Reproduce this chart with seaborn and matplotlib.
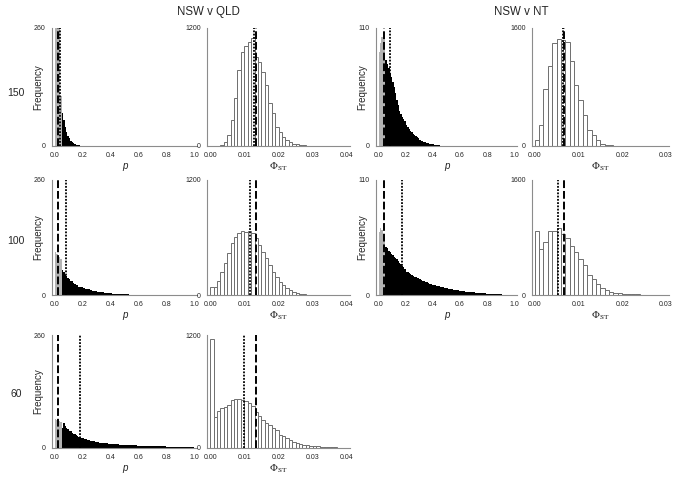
import numpy as np
import pandas as pd
import matplotlib
matplotlib.use("Agg")
import matplotlib.pyplot as plt
import seaborn as sns

sns.set_style("white")
plt.rcParams["font.family"] = ["Liberation Sans", "DejaVu Sans"]
plt.rcParams["mathtext.fontset"] = "stix"

# p-value histograms, counts per 0.01 bin starting at p = 0 (bins below 0.05 drawn grey)
p_qld_150 = [420, 390, 330, 270, 110, 72, 57, 41, 31, 22, 17, 11, 8, 6, 4, 3, 2.2, 1.5, 1, 0.8,
             0.5, 0.4, 0.3, 0.2]
p_qld_100 = [98, 93, 90, 86, 81, 57, 53, 46, 44, 38, 36, 32, 31, 27, 26, 23, 23, 19, 19, 17,
             16, 15, 14, 13, 12.5, 11, 10.5, 9.5, 9.2, 8, 7.8, 7, 6.8, 6, 5.7, 5, 4.8, 4.2, 4, 3.6,
             3.4, 3, 2.9, 2.6, 2.5, 2.2, 2.1, 1.8, 1.7, 1.5, 1.4, 1.2, 1.2, 1, 1, 0.8, 0.8, 0.6, 0.6, 0.5,
             0.5, 0.4, 0.4, 0.3, 0.3, 0.2, 0.2, 0.2, 0.1, 0.1]
p_qld_60 = [66, 64, 63, 61, 59, 46, 58, 50, 46, 43, 39, 38, 35, 33, 32, 29, 28, 26, 25, 24,
            22, 21.5, 20, 19.5, 18, 17, 17, 16, 15, 14.5, 13.5, 13.5, 12.5, 12.5, 11.5, 11, 11, 10.5, 10, 10,
            9.5, 9.4, 9, 8.9, 8.5, 8.4, 8, 7.9, 7.6, 7.5, 7.2, 7.1, 6.8, 6.7, 6.4, 6.3, 6.1, 6, 5.8, 5.7,
            5.5, 5.5, 5.2, 5.2, 5, 5, 4.8, 4.7, 4.5, 4.5, 4.3, 4.2, 4, 4, 3.9, 3.9, 3.7, 3.7, 3.5, 3.5,
            3.4, 3.4, 3.2, 3.2, 3.1, 3.1, 3, 2.9, 2.9, 2.8, 2.7, 2.7, 2.6, 2.6, 2.5, 2.5, 2.4, 2.4, 2.3, 2.3]
p_nt_150 = [88, 96, 102, 106, 100, 80, 76, 73, 68, 64, 60, 55, 49, 43, 38, 33, 30, 27, 25, 23,
            20, 18, 16, 14, 13, 11, 10, 9, 8, 7, 6, 5, 4.5, 4, 3.5, 3, 2.5, 2, 2, 1.5,
            1.5, 1, 1, 0.7, 0.5, 0.4, 0.3, 0.2]
p_nt_100 = [60, 64, 62, 58, 55, 46, 45, 42, 41, 39, 38, 36, 35, 34, 33, 31, 30, 28, 27, 25,
            22, 22, 21, 20, 19, 18, 17, 17, 16, 16, 15, 14, 13.5, 13, 12.6, 12, 11.5, 11, 10.5, 10,
            9.7, 9.4, 9, 8.7, 8.4, 8, 7.7, 7.4, 7.1, 6.8, 6.4, 6.1, 5.8, 5.6, 5.4, 5.1, 4.9, 4.6, 4.4, 4.2,
            4, 3.8, 3.6, 3.4, 3.2, 3, 2.9, 2.8, 2.6, 2.5, 2.4, 2.2, 2.1, 2, 1.9, 1.8, 1.7, 1.6, 1.5, 1.4,
            1.3, 1.2, 1.1, 1, 0.9, 0.8, 0.7, 0.7, 0.6, 0.5, 0.5, 0.4, 0.4, 0.3, 0.3, 0.2, 0.2, 0.2, 0.1]

# PhiST histograms, counts per 0.001 bin starting at 0
phi_qld_150 = [0, 0, 0, 14, 41, 109, 262, 484, 774, 961, 1012, 1053, 1098, 903, 859, 757, 620, 433,
               331, 194, 143, 92, 58, 41, 24, 17, 10, 7, 4, 2, 1]
phi_qld_100 = [87, 87, 146, 243, 330, 435, 539, 609, 643, 668, 661, 668, 643, 591, 522, 452, 383, 313,
               237, 191, 139, 104, 77, 52, 35, 24, 14, 7, 4, 2, 1]
phi_qld_60 = [1154, 328, 388, 424, 434, 459, 512, 519, 522, 512, 501, 476, 448, 378, 335, 300, 265, 247,
              212, 187, 141, 124, 106, 88, 64, 53, 46, 35, 28, 21, 21, 18, 14, 11, 11, 7, 7, 4, 4]
phi_nt_150 = [77, 282, 768, 1086, 1395, 1450, 1440, 1409, 1155, 827, 623, 418, 214, 145, 77, 32, 14, 7,
              4, 2, 1]
phi_nt_100 = [891, 640, 731, 891, 891, 937, 846, 800, 686, 594, 503, 411, 274, 229, 160, 91, 69, 46,
              32, 23, 18, 14, 9, 9, 5, 2]

# observed (dashed) and median (dotted) values
p_obs_qld, p_obs_nt = 0.022, 0.042
p_med = {"qld150": 0.038, "qld100": 0.08, "qld60": 0.178, "nt150": 0.082, "nt100": 0.17}
phi_obs_qld, phi_obs_nt = 0.0135, 0.0068
phi_med = {"qld150": 0.0129, "qld100": 0.0118, "qld60": 0.0100, "nt150": 0.0065, "nt100": 0.0054}

W, H = 683, 482
fig = plt.figure(figsize=(W / 100, H / 100), dpi=100)

cols = [(52, 197), (207, 350), (376, 517), (532, 669)]
rows = [(28, 146), (180, 295), (335, 448)]


def make_ax(r, c):
    x0, x1 = cols[c]
    y0, y1 = rows[r]
    return fig.add_axes([x0 / W, 1 - y1 / H, (x1 - x0) / W, (y1 - y0) / H])


def style(ax, ymax):
    sns.despine(ax=ax)
    for s in ("left", "bottom"):
        ax.spines[s].set_color("#8c8c8c")
        ax.spines[s].set_linewidth(0.8)
    ax.set_ylim(0, ymax)
    ax.set_yticks([0, ymax])
    ax.set_yticklabels(["0", str(ymax)])
    ax.tick_params(axis="both", length=2, width=0.6, color="#8c8c8c", pad=2.5, labelsize=5)
    ax.set_ylabel("")


def vlines(ax, obs, med):
    ax.axvline(obs, color="black", lw=1.4, ls=(0, (4, 1.5)), zorder=5)
    ax.axvline(med, color="black", lw=1.3, ls=(0, (1, 0.8)), zorder=5)


def p_panel(ax, counts, ymax, obs, med, freq=True):
    n = len(counts)
    df = pd.DataFrame({"p": (np.arange(n) + 0.5) * 0.01, "n": counts})
    sig = df[df["p"] < 0.05]
    rest = df[df["p"] >= 0.05]
    sns.histplot(data=sig, x="p", weights="n", binwidth=0.01, binrange=(0, 0.05),
                 element="step", fill=True, color="#b3b3b3", alpha=1, linewidth=0, ax=ax)
    sns.histplot(data=rest, x="p", weights="n", binwidth=0.01, binrange=(0.05, n * 0.01),
                 element="step", fill=True, color="black", alpha=1, linewidth=0, ax=ax)
    vlines(ax, obs, med)
    ax.set_xlim(-0.02, 1.02)
    ax.set_xticks([0, 0.2, 0.4, 0.6, 0.8, 1.0])
    ax.set_xticklabels(["0.0", "0.2", "0.4", "0.6", "0.8", "1.0"])
    style(ax, ymax)
    ax.set_xlabel("p", style="italic", fontsize=7, labelpad=1)
    if freq:
        ax.set_ylabel("Frequency", fontsize=7)
        ax.yaxis.set_label_coords(-0.06, 0.5)


def phi_panel(ax, counts, ymax, obs, med, xmax, ticks):
    n = len(counts)
    df = pd.DataFrame({"phi": (np.arange(n) + 0.5) * 0.001, "n": counts})
    sns.histplot(data=df, x="phi", weights="n", binwidth=0.001, binrange=(0, n * 0.001),
                 element="bars", fill=True, color="white", alpha=1,
                 edgecolor="#6e6e6e", linewidth=0.7, ax=ax)
    vlines(ax, obs, med)
    ax.set_xlim(-0.0009 if xmax > 0.035 else -0.0006, xmax)
    ax.set_xticks(ticks)
    ax.set_xticklabels([f"{t:.2f}" for t in ticks])
    style(ax, ymax)
    ax.set_xlabel(r"$\Phi_{\rm ST}$", fontsize=7.5, labelpad=1)


qld_ticks = [0.0, 0.01, 0.02, 0.03, 0.04]
nt_ticks = [0.0, 0.01, 0.02, 0.03]

p_panel(make_ax(0, 0), p_qld_150, 260, p_obs_qld, p_med["qld150"])
phi_panel(make_ax(0, 1), phi_qld_150, 1200, phi_obs_qld, phi_med["qld150"], 0.0409, qld_ticks)
p_panel(make_ax(0, 2), p_nt_150, 110, p_obs_nt, p_med["nt150"])
phi_panel(make_ax(0, 3), phi_nt_150, 1600, phi_obs_nt, phi_med["nt150"], 0.0307, nt_ticks)

p_panel(make_ax(1, 0), p_qld_100, 260, p_obs_qld, p_med["qld100"])
phi_panel(make_ax(1, 1), phi_qld_100, 1200, phi_obs_qld, phi_med["qld100"], 0.0409, qld_ticks)
p_panel(make_ax(1, 2), p_nt_100, 110, p_obs_nt, p_med["nt100"])
phi_panel(make_ax(1, 3), phi_nt_100, 1600, phi_obs_nt, phi_med["nt100"], 0.0307, nt_ticks)

p_panel(make_ax(2, 0), p_qld_60, 260, p_obs_qld, p_med["qld60"])
phi_panel(make_ax(2, 1), phi_qld_60, 1200, phi_obs_qld, phi_med["qld60"], 0.0409, qld_ticks)

fig.text(208 / W, 1 - 12 / H, "NSW v QLD", ha="center", va="center", fontsize=8.3)
fig.text(521 / W, 1 - 12 / H, "NSW v NT", ha="center", va="center", fontsize=8.3)
for lab, y in [("150", 93), ("100", 241), ("60", 394)]:
    fig.text(16 / W, 1 - y / H, lab, ha="center", va="center", fontsize=7.5)

fig.savefig("out.png", dpi=100)
